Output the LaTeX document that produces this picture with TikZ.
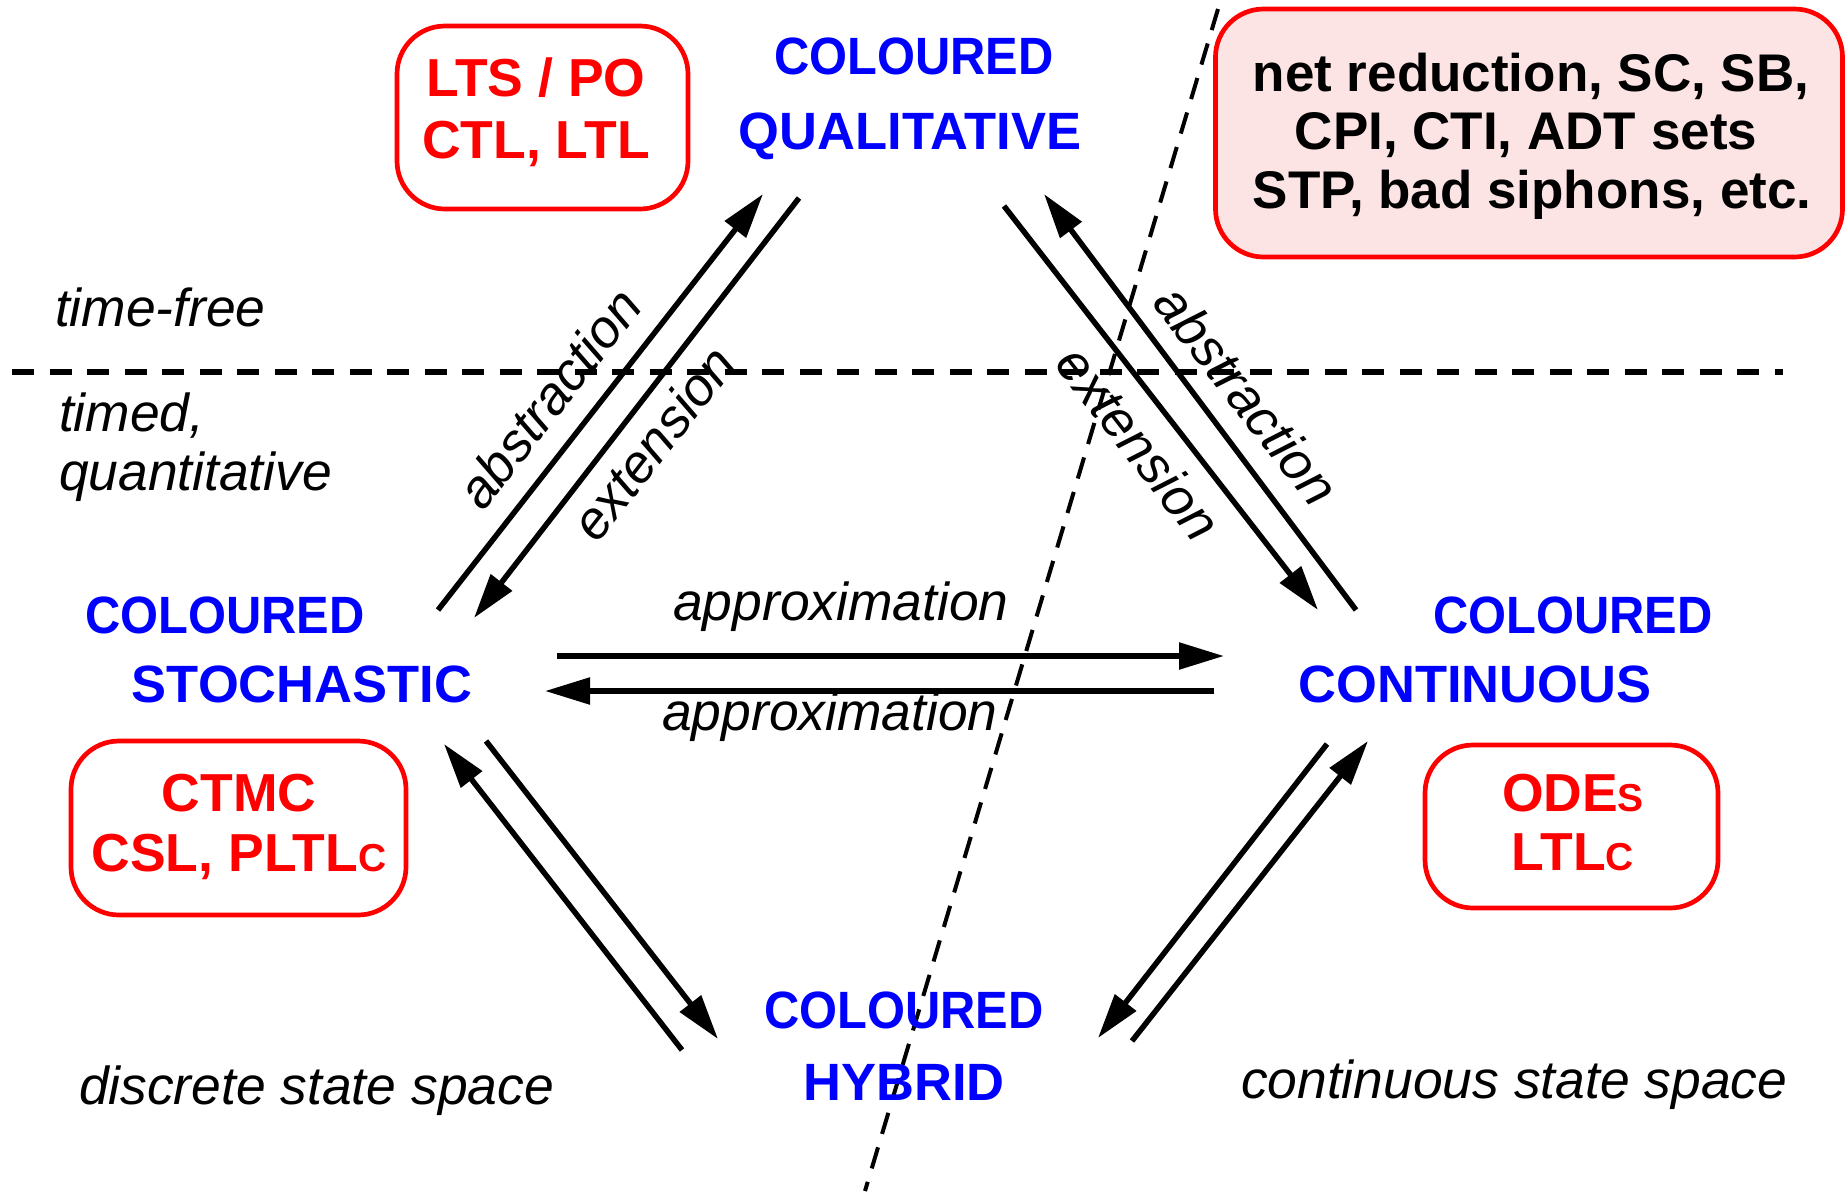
\documentclass[tikz,border=0pt]{standalone}
\usepackage{fontspec}
\setmainfont{Liberation Sans}
\usetikzlibrary{arrows.meta}
\definecolor{boxpink}{RGB}{253,228,228}

\begin{document}
\begin{tikzpicture}[x=1pt,y=-1pt,
  every node/.style={inner sep=0pt, outer sep=0pt},
  model/.style={anchor=base, text=blue, font=\bfseries\fontsize{52.5}{61}\selectfont},
  narrow/.style={xscale=0.93},
  method/.style={anchor=base, text=red, font=\bfseries\fontsize{53.5}{61}\selectfont},
  analysis/.style={anchor=base, text=black, font=\bfseries\fontsize{53}{59}\selectfont},
  remark/.style={font=\itshape\fontsize{53.4}{60}\selectfont},
  redbox/.style={draw=red, line width=4.7pt, rounded corners=48pt},
  conn/.style={line width=5.5pt, -{Triangle[length=45pt,width=26pt]}},
  divider/.style={line width=6.5pt, dash pattern=on 22pt off 15.5pt},
  slant/.style={line width=4pt, dash pattern=on 22pt off 14pt},
]
\useasboundingbox (0,0) rectangle (1845,1192);
\fill[white] (0,0) rectangle (1845,1192);

% dividing lines
\coordinate (hl) at (12,372);
\coordinate (hr) at (1783,372);
\coordinate (dt) at (1218,9);
\coordinate (db) at (865,1191);
\draw[divider] (hl) -- (hr);
\draw[slant] (dt) -- (db);

% region remarks
\node[remark, anchor=base west] (tf) at (55,326) {time-free};
\node[remark, anchor=base west] (tq1) at (59,431) {timed,};
\node[remark, anchor=base west] (tq2) at (59,490) {quantitative};
\node[remark, anchor=base west] (dss) at (79,1104) {discrete state space};
\node[remark, anchor=base west] (css) at (1241,1098) {continuous state space};

% analysis boxes
\node[redbox, minimum width=291pt, minimum height=183pt] (ltsbox) at (542.5,117.5) {};
\node[method] (lts1) at (536,96) {LTS / PO};
\node[method] (lts2) at (536,158) {CTL, LTL};

\node[redbox, fill=boxpink, minimum width=627pt, minimum height=248pt] (strbox) at (1529,133) {};
\node[analysis] (str1) at (1531,91) {net reduction, SC, SB,};
\node[analysis] (str2) at (1526,149) {CPI, CTI, ADT sets};
\node[analysis] (str3) at (1532,208) {STP, bad siphons, etc.};

\node[redbox, minimum width=335pt, minimum height=174pt] (ctmcbox) at (238.5,828) {};
\node[method] (ctmc1) at (239,811) {CTMC};
\node[method] (ctmc2) at (239,871) {CSL, PLTL{\fontsize{39}{39}\selectfont C}};

\node[redbox, minimum width=293pt, minimum height=163pt] (odebox) at (1571.5,826.5) {};
\node[method] (ode1) at (1573,811) {ODE{\fontsize{39}{39}\selectfont S}};
\node[method] (ode2) at (1573,870) {LTL{\fontsize{39}{39}\selectfont C}};

% the four model classes
\node[model, narrow] (qual1) at (914,74) {COLOURED};
\node[model] (qual2) at (910,149) {QUALITATIVE};
\node[model, narrow] (sto1) at (225,633) {COLOURED};
\node[model] (sto2) at (302,702) {STOCHASTIC};
\node[model, narrow] (con1) at (1573,633) {COLOURED};
\node[model] (con2) at (1475,702) {CONTINUOUS};
\node[model, narrow] (hyb1) at (904,1028) {COLOURED};
\node[model] (hyb2) at (904,1100) {HYBRID};

% arrow end points
\coordinate (l1a) at (438,610);  \coordinate (l1b) at (763,194);
\coordinate (l2a) at (799,198);  \coordinate (l2b) at (474,618);
\coordinate (r1a) at (1004,206); \coordinate (r1b) at (1318,610);
\coordinate (r2a) at (1356,610); \coordinate (r2b) at (1044,194);
\coordinate (h1a) at (557,656);  \coordinate (h1b) at (1224,656);
\coordinate (h2a) at (1214,691); \coordinate (h2b) at (545,691);
\coordinate (b1a) at (486,741);  \coordinate (b1b) at (718,1039);
\coordinate (b2a) at (682,1050); \coordinate (b2b) at (444,744);
\coordinate (c1a) at (1327,744); \coordinate (c1b) at (1098,1038);
\coordinate (c2a) at (1132,1041);\coordinate (c2b) at (1368,741);

\draw[conn] (l1a) -- (l1b);
\draw[conn] (l2a) -- (l2b);
\draw[conn] (r1a) -- (r1b);
\draw[conn] (r2a) -- (r2b);
\draw[conn] (h1a) -- (h1b);
\draw[conn] (h2a) -- (h2b);
\draw[conn] (b1a) -- (b1b);
\draw[conn] (b2a) -- (b2b);
\draw[conn] (c1a) -- (c1b);
\draw[conn] (c2a) -- (c2b);

% arrow labels
\node[remark, rotate=52] (abl) at (549,398) {abstraction};
\node[remark, rotate=52] (exl) at (653,443) {extension};
\node[remark, rotate=-52] (abr) at (1247,395) {abstraction};
\node[remark, rotate=-52] (exr) at (1139,443) {extension};
\node[remark, anchor=base] (ap1) at (841,620) {approximation};
\node[remark, anchor=base] (ap2) at (830,730) {approximation};
\end{tikzpicture}
\end{document}
